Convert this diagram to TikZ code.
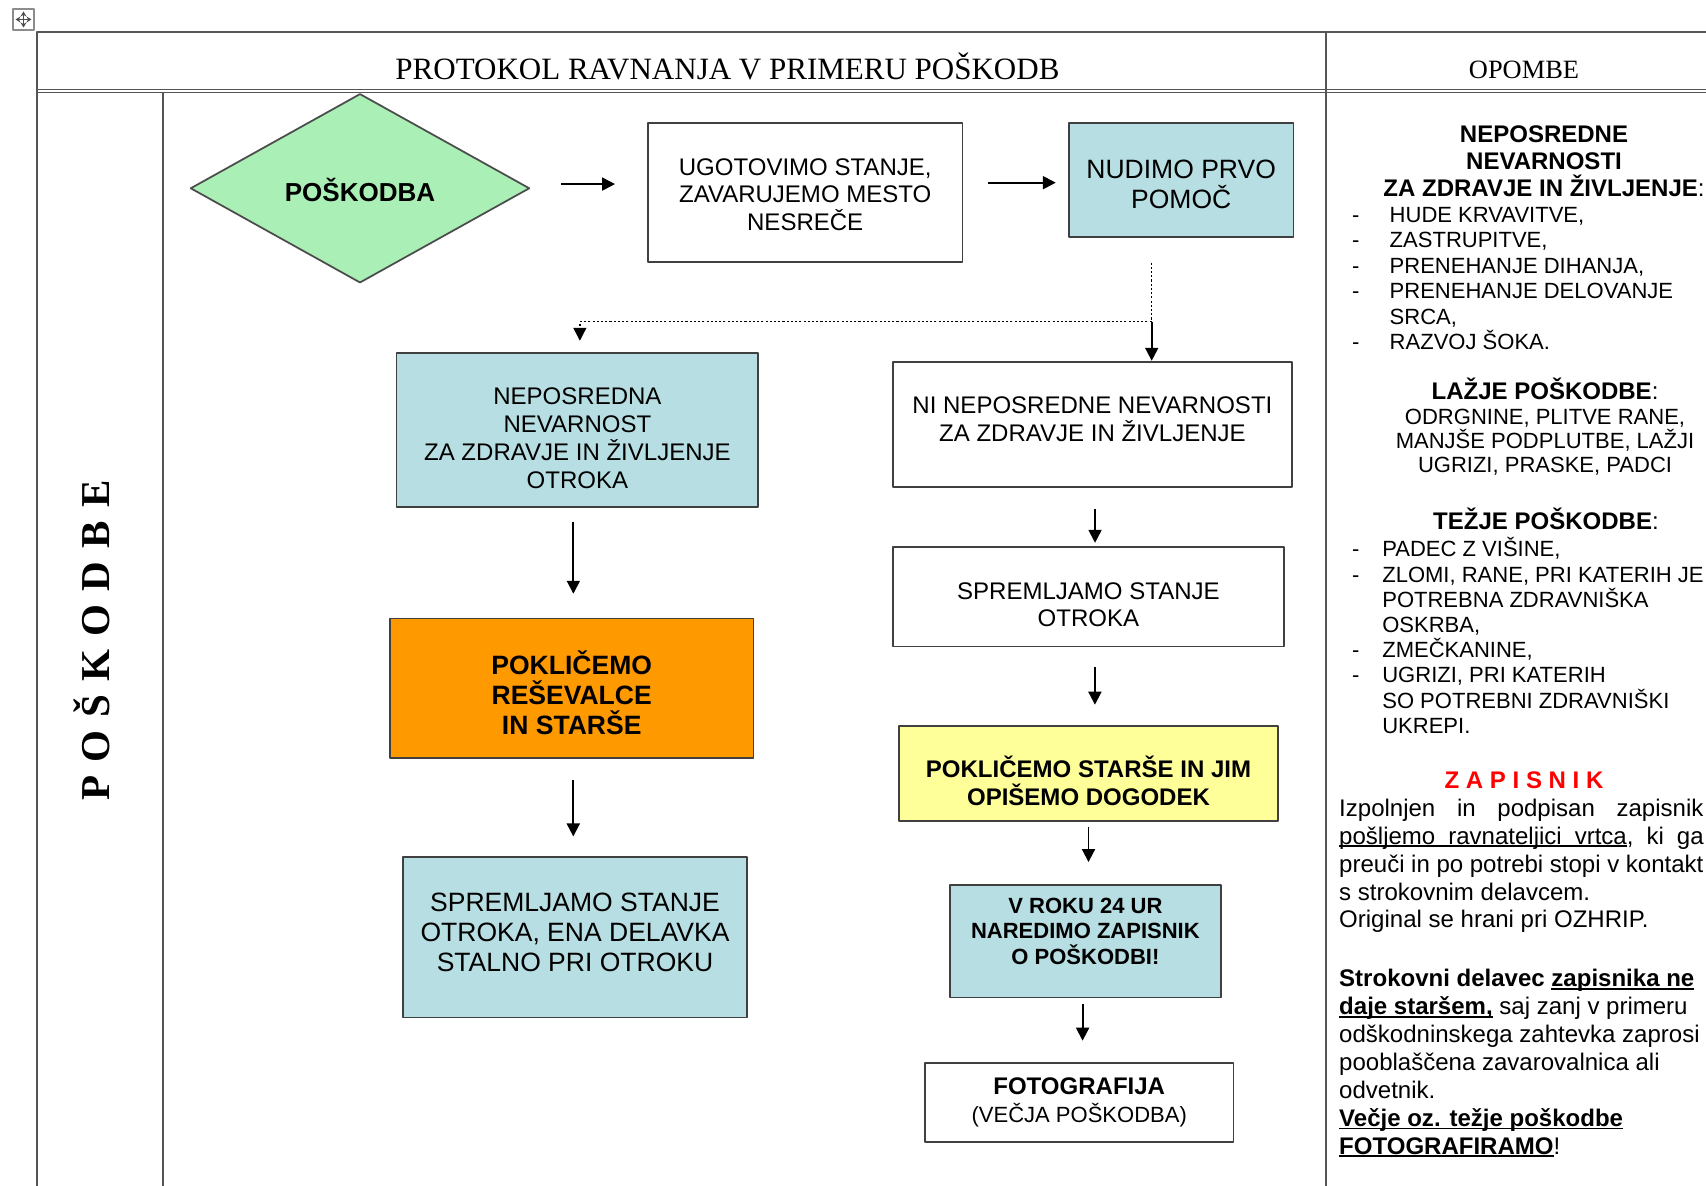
\documentclass[tikz,border=0pt]{standalone}
\usepackage{fontspec}
\setmainfont{Liberation Sans}
\newfontfamily\serifrm{Liberation Serif}
\newfontfamily\sidefont[LetterSpace=32]{Liberation Serif}
\usetikzlibrary{shapes.geometric,arrows.meta}

\definecolor{dgreen}{RGB}{170,240,182}
\definecolor{lblue}{RGB}{183,222,226}
\definecolor{orng}{RGB}{255,153,0}
\definecolor{lyel}{RGB}{255,255,153}
\definecolor{tabgray}{RGB}{85,85,85}

\newcommand\szS{\fontsize{6.26}{7.26}\selectfont}
\newcommand\szM{\fontsize{6.83}{7.82}\selectfont}
\newcommand\szL{\fontsize{7.54}{8.54}\selectfont}
\newsavebox\ulbox
\newcommand\undl[1]{\sbox\ulbox{#1}\rlap{\rule[-0.11em]{\wd\ulbox}{0.07em}}\usebox\ulbox}
\newcommand\dsh[1]{\makebox[#1][l]{-}}
\newcommand\tpad[1]{\rule{0pt}{#1}}
\newcommand\bpad[1]{\rule[-#1]{0pt}{#1}}

\tikzset{
  box/.style={draw=black!75, line width=0.5pt, inner sep=0pt, align=center},
  tab/.style={draw=tabgray, line width=0.55pt},
  txt/.style={inner sep=0pt, anchor=base, align=center},
  lst/.style={inner sep=0pt, anchor=base west, align=left},
}

\begin{document}
\begin{tikzpicture}[x=0.01cm, y=-0.01cm, line join=round, >={Triangle[length=1.3mm,width=1.3mm]}]
	\useasboundingbox (0,0) rectangle (1706,1186);
	\clip (0,0) rectangle (1706,1186);
	\draw[black!45, line width=0.4pt] (13,9) rectangle (34,30);
	\draw[black!70, line width=0.3pt, {Stealth[length=0.5mm,width=0.6mm]}-{Stealth[length=0.5mm,width=0.6mm]}] (23.5,11.5) -- (23.5,27.5);
	\draw[black!70, line width=0.3pt, {Stealth[length=0.5mm,width=0.6mm]}-{Stealth[length=0.5mm,width=0.6mm]}] (15.5,19.5) -- (31.5,19.5);
	\draw[tab, line width=0.8pt] (37,1186) -- (37,32) -- (1706,32);
	\draw[tab, line width=0.35pt] (37,89.8) -- (1706,89.8) (37,92.6) -- (1706,92.6);
	\draw[tab] (163,92.6) -- (163,1186);
	\draw[tab] (1326,32) -- (1326,1186);
	\node[txt, font=\serifrm\fontsize{8.82}{10}\selectfont] (title) at (727.5,80) {PROTOKOL RAVNANJA V PRIMERU POŠKODB};
	\node[txt, font=\serifrm\fontsize{7.51}{9}\selectfont] (opombe) at (1524,78.5) {OPOMBE};
	\node[rotate=90, anchor=base, inner sep=0pt, font=\sidefont\bfseries\fontsize{11.67}{13}\selectfont] (side) at (110,640.5) {POŠKODBE};

	\node[diamond, draw=black!70, line width=0.5pt, fill=dgreen, minimum width=3.39cm, minimum height=1.89cm, inner sep=0pt, font=\bfseries\fontsize{7.4}{8.5}\selectfont] (injury) at (360,188.3) {\tpad{0.27cm}POŠKODBA};
	\node[box, minimum width=3.143cm, minimum height=1.384cm, font=\szM] (assess) at (805.2,192.5) {\tpad{0.21cm}UGOTOVIMO STANJE,\\ZAVARUJEMO MESTO\\NESREČE};
	\node[box, fill=lblue, minimum width=2.243cm, minimum height=1.14cm, font=\szL] (aid) at (1181.2,179.7) {\tpad{0.28cm}NUDIMO PRVO\\POMOČ};
	\node[box, fill=lblue, minimum width=3.616cm, minimum height=1.534cm, font=\fontsize{6.83}{7.91}\selectfont] (danger) at (577.4,430) {\tpad{0.334cm}NEPOSREDNA\\NEVARNOST\\ZA ZDRAVJE IN ŽIVLJENJE\\OTROKA};
	\node[box, minimum width=3.993cm, minimum height=1.25cm, font=\fontsize{6.83}{8.08}\selectfont] (nodanger) at (1092.4,424.2) {NI NEPOSREDNE NEVARNOSTI\\ZA ZDRAVJE IN ŽIVLJENJE\bpad{0.1cm}};
	\node[box, fill=orng, minimum width=3.633cm, minimum height=1.392cm, font=\bfseries\szL] (call) at (571.7,688.2) {\tpad{0.33cm}POKLIČEMO\\REŠEVALCE\\IN STARŠE};
	\node[box, fill=lblue, minimum width=3.434cm, minimum height=1.604cm, font=\szL] (watchL) at (575,937.2) {SPREMLJAMO STANJE\\OTROKA, ENA DELAVKA\\STALNO PRI OTROKU\bpad{0.094cm}};
	\node[box, minimum width=3.913cm, minimum height=0.993cm, font=\fontsize{6.83}{7.74}\selectfont] (watchR) at (1088.4,596.9) {\tpad{0.328cm}SPREMLJAMO STANJE\\OTROKA};
	\node[box, fill=lyel, minimum width=3.784cm, minimum height=0.946cm, font=\bfseries\szM] (parents) at (1088.5,773.3) {\tpad{0.363cm}POKLIČEMO STARŠE IN JIM\\OPIŠEMO DOGODEK};
	\node[box, fill=lblue, minimum width=2.707cm, minimum height=1.124cm, font=\bfseries\fontsize{6.26}{7.31}\selectfont] (report) at (1085.4,941.2) {V ROKU 24 UR\\NAREDIMO ZAPISNIK\\O POŠKODBI!\bpad{0.2cm}};
	\node[box, minimum width=3.083cm, minimum height=0.788cm, font=\bfseries\fontsize{6.83}{7.97}\selectfont] (photo) at (1079.2,1102.8) {FOTOGRAFIJA\\{\mdseries\fontsize{6.26}{7.97}\selectfont (VEČJA POŠKODBA)}};

	\draw[->, line width=0.55pt, shorten <=0.308cm, shorten >=0.32cm] ([yshift=1.2pt]injury.east) -- ([yshift=1.2pt]injury.east -| assess.west);
	\draw[->, line width=0.55pt, shorten <=0.244cm, shorten >=0.123cm] ([yshift=-0.85pt]assess.east |- aid.west) -- ([yshift=-0.85pt]aid.west);
	\coordinate (split) at (1151.7,321.7);
	\draw[line width=0.4pt, dash pattern=on 0.6pt off 0.6pt] (split |- assess.south) -- (split);
	\draw[->, line width=0.4pt, dash pattern=on 0.6pt off 0.6pt, shorten >=0.116cm] (split) -| ([xshift=0.7pt]danger.north);
	\draw[->, line width=0.55pt] (split) -- (split |- nodanger.north);
	\draw[->, line width=0.55pt, shorten <=0.143cm, shorten >=0.239cm] ([xshift=-1.15pt]danger.south) -- ([xshift=-1.15pt]danger.south |- call.north);
	\draw[->, line width=0.55pt, shorten <=0.21cm, shorten >=0.196cm] ([xshift=0.45pt]call.south) -- ([xshift=0.45pt]call.south |- watchL.north);
	\draw[->, line width=0.55pt, shorten <=0.213cm, shorten >=0.035cm] ([xshift=0.75pt]nodanger.south) -- ([xshift=0.75pt]nodanger.south |- watchR.north);
	\draw[->, line width=0.55pt, shorten <=0.195cm, shorten >=0.204cm] ([xshift=1.85pt]watchR.south) -- ([xshift=1.85pt]watchR.south |- parents.north);
	\draw[->, line width=0.55pt, shorten <=0.054cm, shorten >=0.22cm] (parents.south) -- (parents.south |- report.north);
	\draw[->, line width=0.55pt, shorten <=0.056cm, shorten >=0.218cm] ([xshift=-0.8pt]report.south) -- ([xshift=-0.8pt]report.south |- photo.north);

	\node[txt, font=\bfseries\fontsize{6.83}{7.74}\selectfont] (head1) at (1544,196.5) {NEPOSREDNE\\NEVARNOSTI\\ZA ZDRAVJE IN ŽIVLJENJE{\mdseries :}};
	\node[lst, font=\szS] (list1) at (1351.3,350) {\dsh{3.77mm}HUDE KRVAVITVE,\\\dsh{3.77mm}ZASTRUPITVE,\\\dsh{3.77mm}PRENEHANJE DIHANJA,\\\dsh{3.77mm}PRENEHANJE DELOVANJE\\\hspace*{3.77mm}SRCA,\\\dsh{3.77mm}RAZVOJ ŠOKA.};
	\node[txt, font=\bfseries\szM] (head2) at (1545,400) {LAŽJE POŠKODBE{\mdseries :}};
	\node[txt, font=\fontsize{6.26}{6.89}\selectfont] (light) at (1545,473) {ODRGNINE, PLITVE RANE,\\MANJŠE PODPLUTBE, LAŽJI\\UGRIZI, PRASKE, PADCI};
	\node[txt, font=\bfseries\szM] (head3) at (1546,530) {TEŽJE POŠKODBE{\mdseries :}};
	\node[lst, font=\fontsize{6.26}{7.17}\selectfont] (list2) at (1351.3,733.3) {\dsh{3.03mm}PADEC Z VIŠINE,\\\dsh{3.03mm}ZLOMI, RANE, PRI KATERIH JE\\\hspace*{3.03mm}POTREBNA ZDRAVNIŠKA\\\hspace*{3.03mm}OSKRBA,\\\dsh{3.03mm}ZMEČKANINE,\\\dsh{3.03mm}UGRIZI, PRI KATERIH\\\hspace*{3.03mm}SO POTREBNI ZDRAVNIŠKI\\\hspace*{3.03mm}UKREPI.};
	\node[txt, text=red, font=\bfseries\szM] (zap) at (1524,788.3) {Z A P I S N I K};
	\node[lst, font=\fontsize{6.83}{7.94}\selectfont] (par1) at (1338.5,928) {\makebox[3.64cm][s]{Izpolnjen in podpisan zapisnik}\\\undl{pošljemo\hspace{0.13cm}ravnateljici\hspace{0.13cm}vrtca},\hspace{0.13cm}ki\hspace{0.13cm}ga\\\makebox[3.64cm][s]{preuči in po potrebi stopi v kontakt}\\s strokovnim delavcem.\\Original se hrani pri OZHRIP.};
	\node[lst, font=\fontsize{6.83}{7.94}\selectfont] (par2) at (1338.5,1154.5) {\textbf{Strokovni delavec \undl{zapisnika ne}}\\\textbf{\undl{daje staršem,}} saj zanj v primeru\\odškodninskega zahtevka zaprosi\\pooblaščena zavarovalnica ali\\odvetnik.\\\textbf{\undl{Večje oz. težje poškodbe}}\\\textbf{\undl{FOTOGRAFIRAMO}}!};
\end{tikzpicture}
\end{document}
